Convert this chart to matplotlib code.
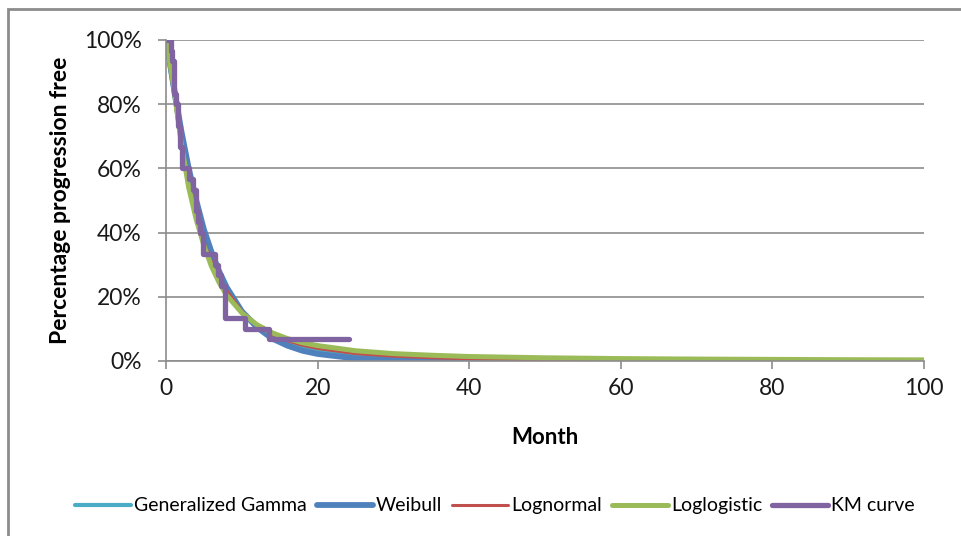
import matplotlib
matplotlib.use("Agg")
import matplotlib.pyplot as plt
from matplotlib.patches import Rectangle
from matplotlib.ticker import FuncFormatter

plt.rcParams['font.family'] = ['Lato', 'DejaVu Sans']

months = [0, 1, 2, 3, 4, 5, 6, 7, 8, 10, 12, 14, 16, 18, 20, 25, 30, 35, 40,
          50, 60, 70, 80, 90, 100]

gen_gamma = [100, 84, 69, 57, 47, 39, 32, 27, 22.5, 15.5, 11.2, 8.2, 6.2, 4.6,
             3.4, 1.7, 0.8, 0.4, 0.2, 0.05, 0, 0, 0, 0, 0]
weibull = [100, 86, 72, 60, 50, 41, 34, 28, 23, 15.5, 10.5, 7, 4.8, 3.2,
           2.2, 0.8, 0.3, 0.1, 0.03, 0, 0, 0, 0, 0, 0]
lognormal = [100, 84, 67, 55, 45, 37, 31, 26, 22, 15.5, 11, 8.3, 6.3, 4.9,
             3.9, 2.3, 1.5, 1.0, 0.7, 0.4, 0.25, 0.15, 0.1, 0.07, 0.05]
loglogistic = [100, 86, 68, 54, 44, 36, 29.5, 24.5, 20.5, 15, 11.3, 8.8, 7,
               5.7, 4.8, 3.2, 2.3, 1.8, 1.4, 1.0, 0.75, 0.6, 0.5, 0.4, 0.35]

# Kaplan-Meier step points
km_time = [0, 0.6, 0.8, 1.0, 1.1, 1.35, 1.6, 1.85, 2.1, 3.0, 3.6, 3.9, 4.2,
           4.5, 4.9, 6.5, 6.8, 7.2, 7.8, 10.4, 13.6, 24.1]
km_surv = [100, 96.7, 93.3, 86.7, 83.3, 80, 73.3, 66.7, 60, 56.7, 53.3, 46.7,
           43.3, 40, 33.3, 30, 26.7, 23.3, 13.3, 10, 6.7, 6.7]

series = [
    ("Generalized Gamma", gen_gamma, "#4BACC6", 3.0),
    ("Weibull", weibull, "#4F81BD", 4.2),
    ("Lognormal", lognormal, "#C0504D", 2.2),
    ("Loglogistic", loglogistic, "#9BBB59", 3.6),
]

fig = plt.figure(figsize=(9.61, 5.36), dpi=100)
ax = fig.add_axes([0.1727, 0.3265, 0.9615 - 0.1727, 0.9254 - 0.3265])

for name, vals, col, lw in series:
    ax.plot(months, vals, color=col, lw=lw, label=name, solid_capstyle='round')
ax.step(km_time, km_surv, where='post', color="#8064A2", lw=3.8,
        label="KM curve", solid_capstyle='round')

ax.set_xlim(0, 100)
ax.set_ylim(0, 100)
ax.set_xticks(range(0, 101, 20))
ax.set_yticks(range(0, 101, 20))
ax.yaxis.set_major_formatter(FuncFormatter(lambda v, p: "%d%%" % v))
ax.grid(axis='y', color='#8c8c8c', lw=1.2)
ax.set_axisbelow(True)
for s in ['top', 'right']:
    ax.spines[s].set_visible(False)
for s in ['left', 'bottom']:
    ax.spines[s].set_color('#8c8c8c')
    ax.spines[s].set_linewidth(1.2)
ax.tick_params(axis='both', direction='out', color='#8c8c8c', width=1.2,
               length=5.5, labelsize=16.5, labelcolor='#1a1a1a')
ax.tick_params(axis='y', pad=12)
ax.tick_params(axis='x', pad=7)

ax.set_xlabel("Month", fontsize=16, fontweight='bold', labelpad=20)
ax.set_ylabel("Percentage progression free", fontsize=16.5, fontweight='bold',
              labelpad=9)

fig.legend(loc='center', bbox_to_anchor=(0.515, 0.056), ncol=5, frameon=False,
           fontsize=14, handlelength=2.9, handletextpad=0.15,
           columnspacing=0.5)

fig.patches.append(Rectangle((8 / 961, -0.05), 1.1, 1 - 9 / 536 + 0.05,
                             transform=fig.transFigure, fill=False,
                             edgecolor='#8c8c8c', lw=2))

fig.savefig("out.png", dpi=100)
